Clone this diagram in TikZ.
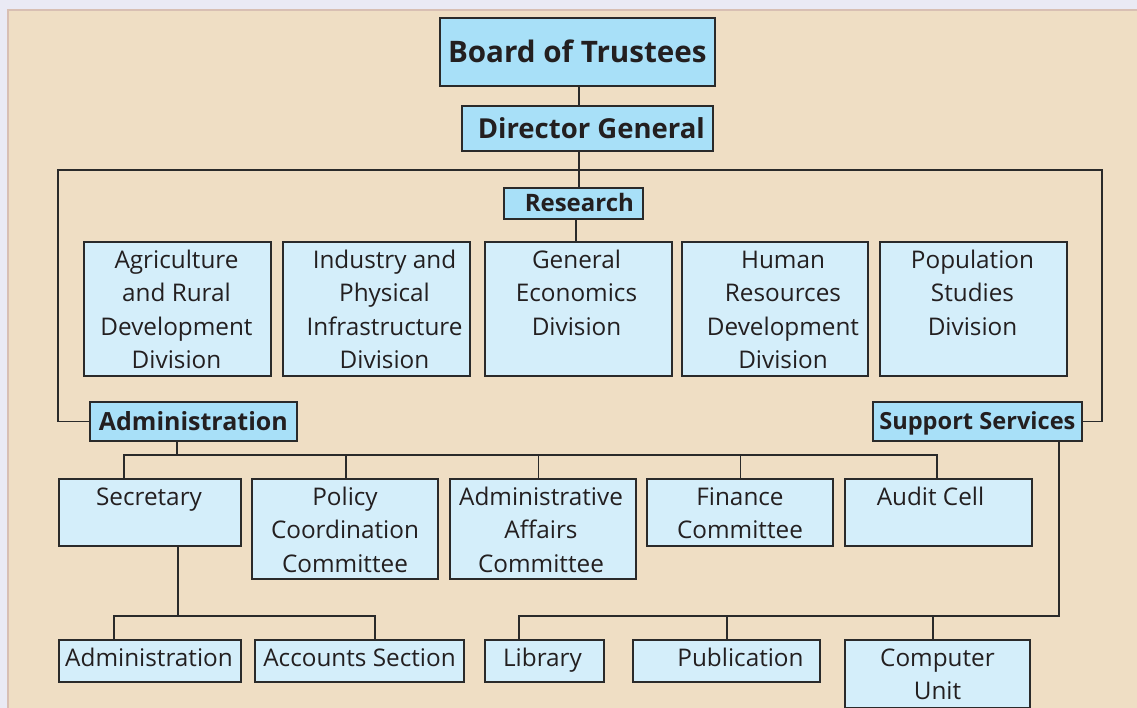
\documentclass[tikz,border=0pt]{standalone}
\usepackage{fontspec}
\setmainfont{Open Sans}
\definecolor{lav}{HTML}{EAEAF4}
\definecolor{beige}{HTML}{EFDEC4}
\definecolor{edgepink}{HTML}{D8BFB3}
\definecolor{lightblue}{HTML}{D4EEFA}
\definecolor{headblue}{HTML}{A8E0F8}
\definecolor{linec}{HTML}{2A2A2A}
\definecolor{textc}{HTML}{231F20}
\tikzset{
  box/.style={draw=linec, line width=1.7pt, fill=lightblue, inner sep=0pt, anchor=north west},
  headbox/.style={box, fill=headblue, text=textc, text depth=0pt},
  boxtext/.style={anchor=base, inner sep=0pt, text=textc, font=\fontsize{24.3}{33.3}\selectfont},
  conn/.style={draw=linec, line width=1.3pt}
}
% name, x1, y1, x2, y2, dx, text
\newcommand{\orgbox}[7]{%
  \node[box, minimum width={(#4-#2)*1pt}, minimum height={(#5-#3)*1pt}] (#1) at (#2,#3) {};
  \node[boxtext] (#1-t) at ({(#2+#4)/2+#6},{#3+27.5}) {\parbox[t]{8cm}{\centering #7}};
}
\begin{document}
\begin{tikzpicture}[x=1pt,y=-1pt]
\useasboundingbox (0,0) rectangle (1137,708);
\fill[lav] (0,0) rectangle (1137,708);
\fill[beige] (7,9) rectangle (1137,708);
\draw[edgepink, line width=1.8pt] (8,708) -- (8,10) -- (1137,10);

% header boxes
\node[headbox, minimum width=275pt, minimum height=68pt, text height=21.1pt, font=\bfseries\fontsize{29.6}{30}\selectfont] (bot) at (439,17) {Board of Trustees};
\node[headbox, minimum width=251pt, minimum height=45pt, text height=19.6pt, font=\bfseries\fontsize{27.5}{28}\selectfont] (dg) at (461,105) {\hspace*{8pt}Director General};
\node[headbox, minimum width=139pt, minimum height=31pt, text height=17.1pt, font=\bfseries\fontsize{24}{24}\selectfont] (res) at (503,187) {\hspace*{12pt}Research};
\node[headbox, minimum width=207pt, minimum height=39pt, text height=17.85pt, font=\bfseries\fontsize{25}{25}\selectfont] (adm) at (89,401) {Administration};
\node[headbox, minimum width=209pt, minimum height=39pt, text height=16.85pt, font=\bfseries\fontsize{23.6}{24}\selectfont] (sup) at (872,401) {Support Services};

% research divisions
\orgbox{agri}{83}{241}{270}{375}{0}{Agriculture\\and Rural\\Development\\Division}
\orgbox{ind}{282}{241}{469}{375}{9}{Industry and\\Physical\\Infrastructure\\Division}
\orgbox{gen}{484}{241}{671}{375}{-1}{General\\Economics\\Division}
\orgbox{hum}{681}{241}{867}{375}{9}{Human\\Resources\\Development\\Division}
\orgbox{pop}{879}{241}{1066}{375}{0}{Population\\Studies\\Division}

% administration units
\orgbox{sec}{58}{478}{240}{545}{0}{Secretary}
\orgbox{pol}{251}{478}{437}{578}{1}{Policy\\Coordination\\Committee}
\orgbox{aff}{449}{478}{635}{578}{-1}{Administrative\\Affairs\\Committee}
\orgbox{fin}{646}{478}{832}{545}{1}{Finance\\Committee}
\orgbox{aud}{844}{478}{1031}{545}{-7}{Audit Cell}

% bottom row
\orgbox{adm2}{58}{639}{240}{681}{0}{Administration}
\orgbox{acc}{254}{639}{463}{681}{1}{Accounts Section}
\orgbox{lib}{484}{639}{603}{681}{-1}{Library}
\orgbox{pub}{632}{639}{819}{681}{15}{Publication}
\orgbox{comp}{844}{639}{1029}{707}{1}{Computer\\Unit}

% junction coordinates
\coordinate (xa) at (579,0);
\coordinate (xr) at (576,0);
\coordinate (lbus) at (58,170);
\coordinate (rbus) at (1102,170);
\coordinate (admbus) at (177,455);
\coordinate (secbus) at (178,616);
\coordinate (supbus) at (1059,616);
\coordinate (xsec) at (124,0);
\coordinate (xpol) at (346,0);
\coordinate (xaff) at (538.5,0);
\coordinate (xfin) at (740.5,0);
\coordinate (xaud) at (937,0);
\coordinate (xadm2) at (114,0);
\coordinate (xacc) at (375,0);
\coordinate (xlib) at (519,0);
\coordinate (xpub) at (727,0);
\coordinate (xcomp) at (933,0);

% connectors
\draw[conn] (xa |- bot.south) -- (xa |- dg.north);
\draw[conn] (xa |- dg.south) -- (xa |- res.north);
\draw[conn] (adm.west) -| (lbus) -- (rbus) |- (sup.east);
\draw[conn] (xr |- res.south) -- (xr |- gen.north);

\draw[conn] (admbus |- adm.south) -- (admbus);
\draw[conn] (xsec |- sec.north) -- (xsec |- admbus) -- (xaud |- admbus) -- (xaud |- aud.north);
\draw[conn] (xpol |- admbus) -- (xpol |- pol.north);
\draw[conn] (xaff |- admbus) -- (xaff |- aff.north);
\draw[conn] (xfin |- admbus) -- (xfin |- fin.north);

\draw[conn] (secbus |- sec.south) -- (secbus);
\draw[conn] (xadm2 |- adm2.north) -- (xadm2 |- secbus) -- (xacc |- secbus) -- (xacc |- acc.north);

\draw[conn] (supbus |- sup.south) -- (supbus) -- (xlib |- supbus) -- (xlib |- lib.north);
\draw[conn] (xpub |- supbus) -- (xpub |- pub.north);
\draw[conn] (xcomp |- supbus) -- (xcomp |- comp.north);
\end{tikzpicture}
\end{document}
